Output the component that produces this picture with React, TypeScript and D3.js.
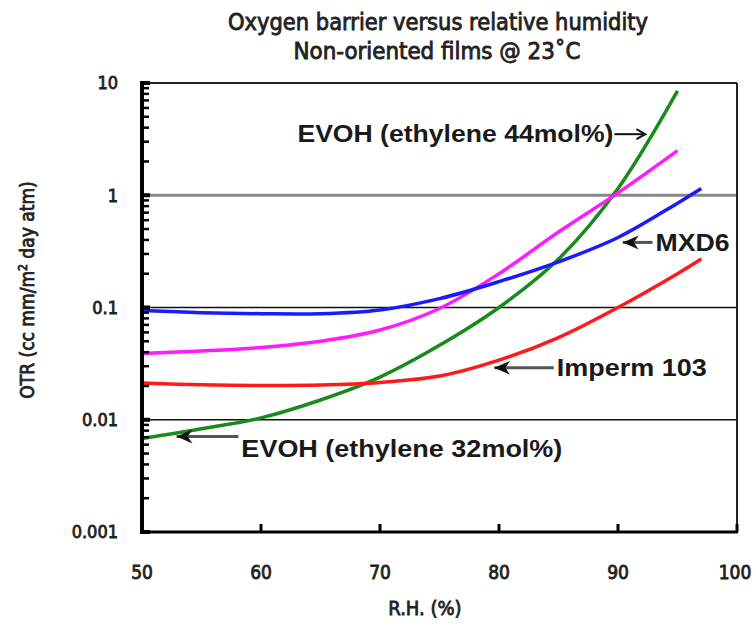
import React from 'react';
import * as d3 from 'd3';

// relative humidity (%) sample points
const rhShort = [50, 55, 60, 65, 70, 75, 80, 85, 90, 95];
const rhLong = [50, 55, 60, 65, 70, 75, 80, 85, 90, 95, 97];

// OTR values (cc mm/m2 day atm)
const evoh44 = [0.0068, 0.0083, 0.0104, 0.015, 0.024, 0.046, 0.1, 0.27, 1.15, 8.5];
const evoh32 = [0.039, 0.041, 0.044, 0.05, 0.063, 0.098, 0.2, 0.47, 1.05, 2.5];
const mxd6 = [0.094, 0.09, 0.088, 0.088, 0.095, 0.12, 0.17, 0.255, 0.42, 0.85, 1.15];
const imperm = [0.0212, 0.0205, 0.0202, 0.0204, 0.0215, 0.0245, 0.034, 0.054, 0.1, 0.2, 0.27];

const xTicks = [50, 60, 70, 80, 90, 100];
const yTicks = [10, 1, 0.1, 0.01, 0.001];
const yTickLabels = ['10', '1', '0.1', '0.01', '0.001'];

const W = 756;
const H = 624;
const left = 142, right = 737, top = 83, bottom = 532;

const x = d3.scaleLinear().domain([50, 100]).range([left, right]);
const y = d3.scaleLog().domain([0.001, 10]).range([bottom, top]);

const line = d3.line<[number, number]>()
  .x(d => x(d[0]))
  .y(d => y(d[1]))
  .curve(d3.curveCatmullRom.alpha(0.5));

const series = [
  { name: 'EVOH 44', rh: rhShort, v: evoh44, color: '#1a8a1a' },
  { name: 'EVOH 32', rh: rhShort, v: evoh32, color: '#ff1aff' },
  { name: 'MXD6', rh: rhLong, v: mxd6, color: '#1a1aff' },
  { name: 'Imperm 103', rh: rhLong, v: imperm, color: '#ff1a1a' },
];

// annotation: arrow tip / tail in data coords, label after tail
const notes = [
  { text: 'EVOH (ethylene 44mol%)', tip: [92.3, 3.5], tail: [89.7, 3.5], side: 'left', width: 316, dy: 0, chevron: true },
  { text: 'MXD6', tip: [90.4, 0.38], tail: [92.9, 0.38], side: 'right', width: 74, dy: 0, chevron: false },
  { text: 'Imperm 103', tip: [79.6, 0.029], tail: [84.6, 0.029], side: 'right', width: 150, dy: 0, chevron: false },
  { text: 'EVOH (ethylene 32mol%)', tip: [52.9, 0.0071], tail: [58.1, 0.0071], side: 'right', width: 321, dy: 12, chevron: false },
];

const condensed = '"DejaVu Sans Condensed", "DejaVu Sans", sans-serif';
const arial = '"Liberation Sans", Arial, sans-serif';

function minorTicks() {
  const out: number[] = [];
  for (let e = -3; e < 1; e++) {
    for (let k = 2; k <= 9; k++) out.push(k * Math.pow(10, e));
  }
  return out;
}

function Arrow({ n }: { n: typeof notes[number] }) {
  const tx = x(n.tip[0]), ty = y(n.tip[1]);
  const sx = x(n.tail[0]);
  const dir = sx > tx ? 1 : -1; // direction from tip back to tail
  let head;
  if (n.chevron) {
    head = (
      <path d={`M${tx + dir * 9},${ty - 5} L${tx},${ty} L${tx + dir * 9},${ty + 5}`}
        fill="none" stroke="#111" strokeWidth={2} />
    );
  } else {
    head = (
      <path d={`M${tx},${ty} L${tx + dir * 16},${ty - 7} L${tx + dir * 11},${ty} L${tx + dir * 16},${ty + 7} Z`}
        fill="#111" />
    );
  }
  return (
    <g>
      <line x1={tx} y1={ty} x2={sx} y2={ty} stroke={n.chevron ? '#111' : '#555'} strokeWidth={n.chevron ? 2 : 3} />
      {head}
      <text x={n.side === 'right' ? sx + 3 : sx - 1} y={ty + n.dy} dy="0.36em"
        textAnchor={n.side === 'right' ? 'start' : 'end'}
        textLength={n.width} lengthAdjust="spacingAndGlyphs"
        fontFamily={arial} fontWeight="bold" fontSize={23} fill="#1a1a1a">{n.text}</text>
    </g>
  );
}

const txt = { fontFamily: condensed, fill: '#222', stroke: '#222', strokeWidth: 0.8 };

export default function App() {
  return (
    <svg width={W} height={H} style={{ position: 'absolute', left: 0, top: 0, background: '#fff', overflow: 'visible' }}>
      {/* title */}
      <text x={438} y={30} textAnchor="middle" fontSize={23} textLength={420} lengthAdjust="spacingAndGlyphs" {...txt}>
        Oxygen barrier versus relative humidity
      </text>
      <text x={437} y={59} textAnchor="middle" fontSize={23} textLength={287} lengthAdjust="spacingAndGlyphs" {...txt}>
        Non-oriented films  @ 23˚C
      </text>

      {/* grid lines */}
      <line x1={left} x2={right} y1={y(1)} y2={y(1)} stroke="#888" strokeWidth={3} />
      <line x1={left} x2={right} y1={y(0.1)} y2={y(0.1)} stroke="#111" strokeWidth={1.5} />
      <line x1={left} x2={right} y1={y(0.01)} y2={y(0.01)} stroke="#111" strokeWidth={1.5} />
      <line x1={left} x2={right} y1={y(10)} y2={y(10)} stroke="#222" strokeWidth={2} />
      <line x1={right} x2={right} y1={top} y2={bottom} stroke="#222" strokeWidth={2} />

      {/* curves */}
      {series.map(s => (
        <path key={s.name} d={line(s.rh.map((r, i) => [r, s.v[i]] as [number, number])) || ''}
          fill="none" stroke={s.color} strokeWidth={3.5} />
      ))}

      {/* axes */}
      <line x1={left} x2={left} y1={top - 2} y2={bottom + 2} stroke="#000" strokeWidth={4} />
      <line x1={left - 2} x2={right + 1} y1={bottom} y2={bottom} stroke="#000" strokeWidth={3} />
      {minorTicks().map(v => (
        <line key={v} x1={left} x2={left + 7} y1={y(v)} y2={y(v)} stroke="#000" strokeWidth={2.5} />
      ))}
      {yTicks.map(v => (
        <line key={v} x1={left} x2={left + 8} y1={y(v)} y2={y(v)} stroke="#000" strokeWidth={4} />
      ))}
      {xTicks.slice(1).map(v => (
        <line key={v} x1={x(v)} x2={x(v)} y1={bottom} y2={bottom - 8} stroke="#000" strokeWidth={3} />
      ))}

      {yTicks.map((v, i) => (
        <text key={v} x={118} y={y(v)} dy="0.36em" textAnchor="end" fontSize={18} {...txt}>{yTickLabels[i]}</text>
      ))}
      {xTicks.map(v => (
        <text key={v} x={v === 100 ? x(v) - 2 : x(v)} y={572} dy="0.36em" textAnchor="middle" fontSize={19} {...txt}>{v}</text>
      ))}

      <text x={425} y={608} dy="0.36em" textAnchor="middle" fontSize={20} {...txt}>R.H. (%)</text>
      <text transform="translate(27,290) rotate(-90)" textAnchor="middle" dy="0.36em" fontSize={19} {...txt}>
        OTR (cc mm/m<tspan dy="-7" fontSize={12}>2</tspan><tspan dy="7"> day atm)</tspan>
      </text>

      {notes.map(n => <Arrow key={n.text} n={n} />)}
    </svg>
  );
}
